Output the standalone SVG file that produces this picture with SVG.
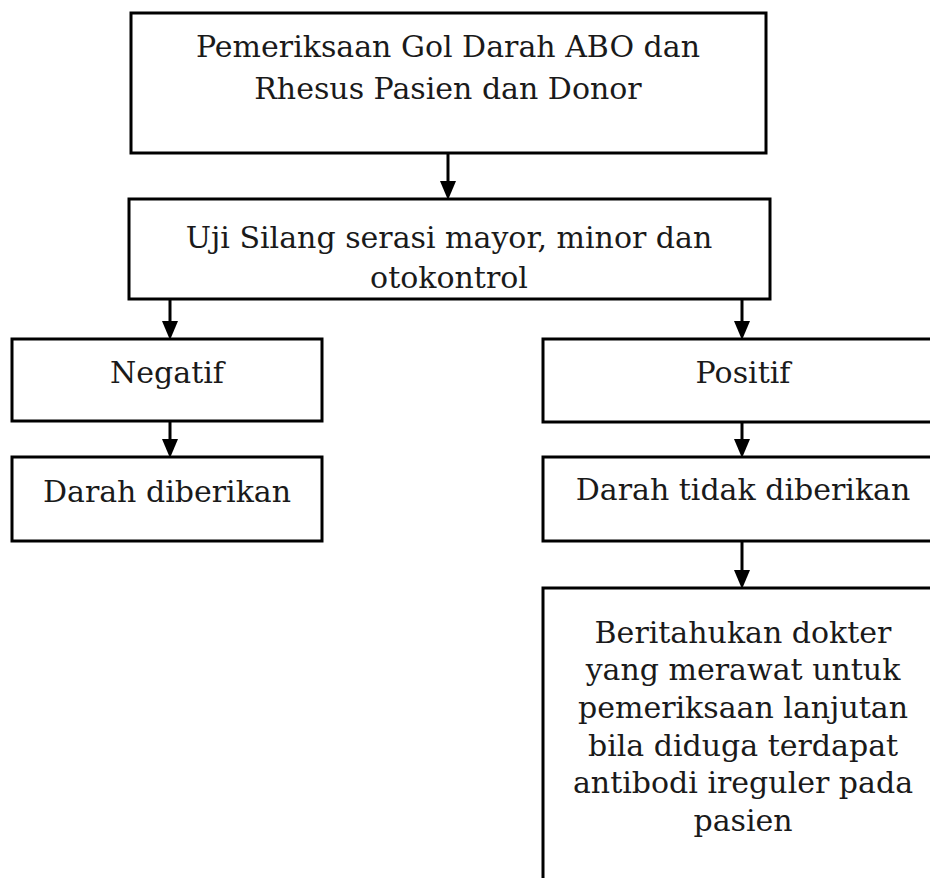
<svg xmlns="http://www.w3.org/2000/svg" width="930" height="878" viewBox="0 0 930 878">
  <style>
    .box { fill: #ffffff; stroke: #000000; stroke-width: 3; }
    .lbl { font-family: "DejaVu Serif", "Liberation Serif", serif; font-size: 30px; fill: #1a1a1a; text-anchor: middle; }
    .conn { stroke: #000000; stroke-width: 3; fill: none; }
    .head { fill: #000000; }
  </style>
  <rect width="930" height="878" fill="#ffffff"/>

  <g id="connectors">
    <line class="conn" x1="448" y1="153" x2="448" y2="185"/>
    <line class="conn" x1="170" y1="299" x2="170" y2="325"/>
    <line class="conn" x1="742" y1="299" x2="742" y2="325"/>
    <line class="conn" x1="170" y1="421" x2="170" y2="443"/>
    <line class="conn" x1="742" y1="421" x2="742" y2="443"/>
    <line class="conn" x1="742" y1="541" x2="742" y2="574"/>
  </g>

  <g id="node-abo">
    <rect class="box" x="131" y="13" width="635" height="140"/>
    <text class="lbl" x="448" y="57">Pemeriksaan Gol Darah ABO dan</text>
    <text class="lbl" x="448" y="99">Rhesus Pasien dan Donor</text>
  </g>

  <g id="node-crossmatch">
    <rect class="box" x="129" y="199" width="641" height="100"/>
    <text class="lbl" x="449" y="248">Uji Silang serasi mayor, minor dan</text>
    <text class="lbl" x="449" y="288">otokontrol</text>
  </g>

  <g id="node-negatif">
    <rect class="box" x="12" y="339" width="310" height="82"/>
    <text class="lbl" x="167" y="383">Negatif</text>
  </g>

  <g id="node-diberikan">
    <rect class="box" x="12" y="457" width="310" height="84"/>
    <text class="lbl" x="167" y="502">Darah diberikan</text>
  </g>

  <g id="node-positif">
    <rect class="box" x="543" y="339" width="400" height="83"/>
    <text class="lbl" x="743" y="383">Positif</text>
  </g>

  <g id="node-tidak">
    <rect class="box" x="543" y="457" width="400" height="84"/>
    <text class="lbl" x="743" y="500">Darah tidak diberikan</text>
  </g>

  <g id="node-dokter">
    <rect class="box" x="543" y="588" width="400" height="300"/>
    <text class="lbl" x="743" y="643">Beritahukan dokter</text>
    <text class="lbl" x="743" y="680">yang merawat untuk</text>
    <text class="lbl" x="743" y="718">pemeriksaan lanjutan</text>
    <text class="lbl" x="743" y="756">bila diduga terdapat</text>
    <text class="lbl" x="743" y="793">antibodi ireguler pada</text>
    <text class="lbl" x="743" y="831">pasien</text>
  </g>

  <!-- arrowheads, drawn over the box outlines -->
  <g id="arrowheads">
    <path class="head" d="M440,181 L456,181 L448,200 Z"/>
    <path class="head" d="M162,321 L178,321 L170,340 Z"/>
    <path class="head" d="M734,321 L750,321 L742,340 Z"/>
    <path class="head" d="M162,439 L178,439 L170,458 Z"/>
    <path class="head" d="M734,439 L750,439 L742,458 Z"/>
    <path class="head" d="M734,570 L750,570 L742,589 Z"/>
  </g>
</svg>
